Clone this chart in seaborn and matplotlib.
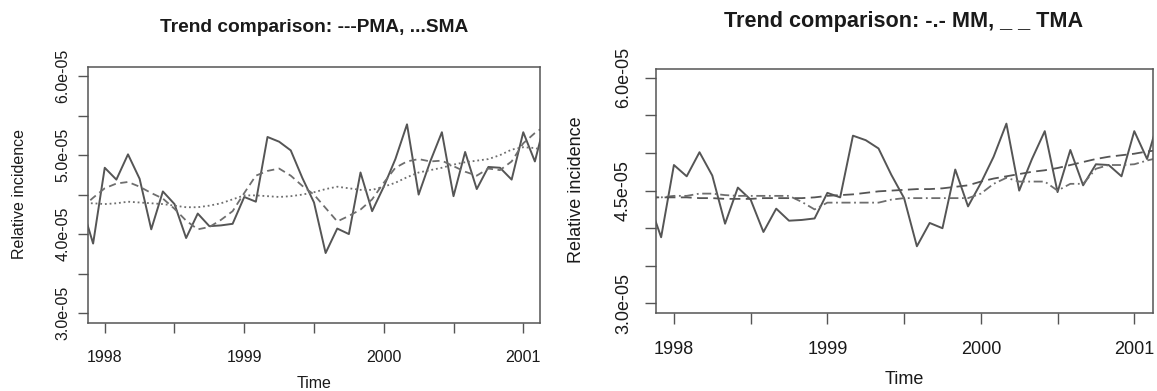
import numpy as np
import pandas as pd
import matplotlib
matplotlib.use("Agg")
import matplotlib.pyplot as plt
import seaborn as sns

# ---------------- data (relative incidence, in units of 1e-05) ----------------
start_year = 1997
start_month = 11  # November 1997, monthly series to March 2001
months_labels = pd.period_range("1997-11", "2001-03", freq="M").astype(str).tolist()

observed = [4.37, 3.88, 4.84, 4.69, 5.01, 4.70, 4.06, 4.54, 4.38, 3.95, 4.26, 4.10,
            4.11, 4.13, 4.47, 4.41, 5.23, 5.17, 5.06, 4.71, 4.40, 3.76, 4.07, 4.00,
            4.78, 4.29, 4.60, 4.95, 5.39, 4.50, 4.92, 5.29, 4.48, 5.04, 4.57, 4.85,
            4.84, 4.69, 5.29, 4.92, 5.50]
pma = [4.33, 4.46, 4.58, 4.64, 4.66, 4.60, 4.52, 4.45, 4.32, 4.17, 4.06, 4.09,
       4.18, 4.29, 4.52, 4.74, 4.80, 4.83, 4.74, 4.61, 4.50, 4.33, 4.16, 4.23,
       4.31, 4.44, 4.65, 4.84, 4.92, 4.95, 4.92, 4.93, 4.86, 4.79, 4.74, 4.83,
       4.81, 4.92, 5.15, 5.28, 5.38]
sma = [4.39, 4.39, 4.38, 4.39, 4.41, 4.40, 4.39, 4.38, 4.36, 4.34, 4.34, 4.36,
       4.39, 4.44, 4.49, 4.49, 4.48, 4.47, 4.48, 4.50, 4.53, 4.57, 4.60, 4.58,
       4.56, 4.56, 4.60, 4.65, 4.72, 4.78, 4.81, 4.84, 4.88, 4.91, 4.93, 4.95,
       5.00, 5.07, 5.10, 5.09, 5.05]
mm = [4.41, 4.41, 4.43, 4.43, 4.46, 4.46, 4.44, 4.43, 4.43, 4.43, 4.43, 4.43,
      4.35, 4.25, 4.34, 4.34, 4.34, 4.34, 4.34, 4.38, 4.40, 4.40, 4.40, 4.40,
      4.40, 4.40, 4.46, 4.59, 4.67, 4.62, 4.62, 4.62, 4.50, 4.59, 4.59, 4.79,
      4.84, 4.84, 4.85, 4.90, 4.94]
tma = [4.41, 4.41, 4.41, 4.41, 4.40, 4.40, 4.39, 4.39, 4.39, 4.40, 4.40, 4.40,
       4.40, 4.41, 4.43, 4.44, 4.45, 4.47, 4.49, 4.50, 4.51, 4.52, 4.52, 4.53,
       4.55, 4.57, 4.62, 4.66, 4.69, 4.72, 4.75, 4.77, 4.80, 4.84, 4.88, 4.92,
       4.95, 4.97, 4.99, 5.02, 5.04]

x_ticks = [1998, 1998.5, 1999, 1999.5, 2000, 2000.5, 2001]
x_ticklabels = ["1998", "", "1999", "", "2000", "", "2001"]
y_ticks = [3.0, 3.5, 4.0, 4.5, 5.0, 5.5, 6.0]
y_labels_left = ["3.0e-05", "", "4.0e-05", "", "5.0e-05", "", "6.0e-05"]
y_labels_right = ["3.0e-05", "", "", "4.5e-05", "", "", "6.0e-05"]
title_left = "Trend comparison: ---PMA, ...SMA"
title_right = "Trend comparison: -.- MM, _ _ TMA"

# ---------------- build frame ----------------
n = len(observed)
time = start_year + (start_month - 1) / 12 + np.arange(n) / 12
scale = 1e-5
df = pd.DataFrame({"time": time, "month": months_labels,
                   "observed": np.array(observed) * scale,
                   "PMA": np.array(pma) * scale, "SMA": np.array(sma) * scale,
                   "MM": np.array(mm) * scale, "TMA": np.array(tma) * scale})

sns.set_theme(style="white")
plt.rcParams["font.family"] = ["Liberation Sans", "DejaVu Sans"]

W, H = 1157, 391
fig = plt.figure(figsize=(W / 100, H / 100), dpi=100)

TEXT = "#1a1a1a"
AXC = "#555555"


def px(v):
    return v * 72 / 100.0


def setup(ax, fs, ticklen, ylabels, xpad, ypad):
    ax.set_xlim(1998 - 0.12, 2001 + 0.12)
    ax.set_ylim((3.0 - 0.12) * scale, (6.0 + 0.12) * scale)
    ax.set_xticks(x_ticks)
    ax.set_xticklabels(x_ticklabels)
    ax.set_yticks([v * scale for v in y_ticks])
    ax.set_yticklabels(ylabels)
    for s in ax.spines.values():
        s.set_visible(True)
        s.set_color(AXC)
        s.set_linewidth(1.1)
    ax.tick_params(axis="both", which="major", direction="out", length=px(ticklen),
                   width=1.0, color=AXC, labelsize=px(fs), labelcolor=TEXT,
                   bottom=True, left=True, top=False, right=False)
    ax.tick_params(axis="x", pad=px(xpad))
    ax.tick_params(axis="y", pad=px(ypad), labelrotation=90)
    for lab in ax.get_yticklabels():
        lab.set_va("center")
    ax.set_xlabel("")
    ax.set_ylabel("")
    ax.grid(False)


# ---------------- left panel ----------------
axL = fig.add_axes([88 / W, 1 - 322.5 / H, 452 / W, 255.8 / H])
sns.lineplot(data=df, x="time", y="observed", ax=axL, color="#555555", lw=1.4)
sns.lineplot(data=df, x="time", y="PMA", ax=axL, color="#6e6e6e", lw=1.3,
             linestyle=(0, (4, 2.5)))
sns.lineplot(data=df, x="time", y="SMA", ax=axL, color="#6e6e6e", lw=1.3,
             linestyle=(0, (1, 1.6)))
setup(axL, 16, 10, y_labels_left, 17.5, 7.5)

fig.text(314 / W, 1 - 27 / H, title_left, ha="center", va="center",
         fontsize=px(19.2), fontweight="bold", color=TEXT)
fig.text(314 / W, 1 - 383 / H, "Time", ha="center", va="center",
         fontsize=px(16), color=TEXT)
fig.text(20 / W, 1 - 194 / H, "Relative incidence", ha="center", va="center",
         rotation=90, fontsize=px(16), color=TEXT)

# ---------------- right panel ----------------
axR = fig.add_axes([655.5 / W, 1 - 312.5 / H, 497.2 / W, 243.8 / H])
sns.lineplot(data=df, x="time", y="observed", ax=axR, color="#555555", lw=1.4)
sns.lineplot(data=df, x="time", y="MM", ax=axR, color="#6e6e6e", lw=1.3,
             linestyle=(0, (5, 2, 1, 2)))
sns.lineplot(data=df, x="time", y="TMA", ax=axR, color="#555555", lw=1.3,
             linestyle=(0, (6, 3)))
setup(axR, 18, 11.5, y_labels_right, 17, 12)

fig.text(904 / W, 1 - 22 / H, title_right, ha="center", va="center",
         fontsize=px(21.6), fontweight="bold", color=TEXT)
fig.text(904 / W, 1 - 380 / H, "Time", ha="center", va="center",
         fontsize=px(18), color=TEXT)
fig.text(576.7 / W, 1 - 190 / H, "Relative incidence", ha="center", va="center",
         rotation=90, fontsize=px(18), color=TEXT)

fig.savefig("out.png", dpi=100, facecolor="white")
